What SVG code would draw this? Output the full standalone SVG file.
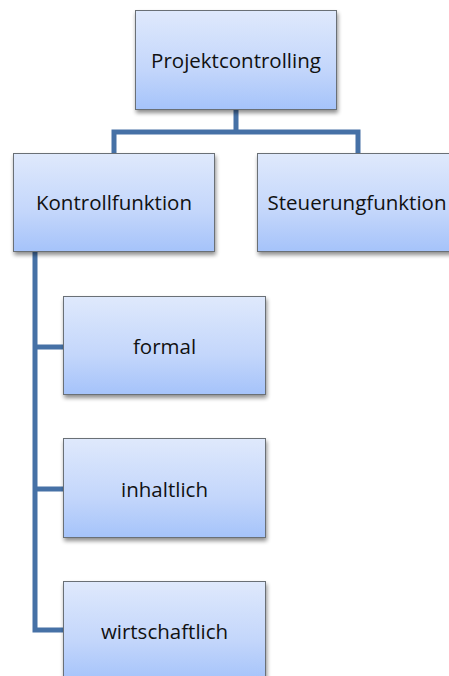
<svg xmlns="http://www.w3.org/2000/svg" width="449" height="676" viewBox="0 0 449 676">
  <defs>
    <linearGradient id="boxFill" x1="0" y1="0" x2="0" y2="1">
      <stop offset="0" stop-color="#dfe9fc"/>
      <stop offset="0.6" stop-color="#c3d6fb"/>
      <stop offset="1" stop-color="#a5c3fa"/>
    </linearGradient>
    <filter id="shadow" x="-10%" y="-10%" width="125%" height="130%">
      <feGaussianBlur in="SourceAlpha" stdDeviation="2"/>
      <feOffset dx="1" dy="3" result="b"/>
      <feComponentTransfer><feFuncA type="linear" slope="0.45"/></feComponentTransfer>
      <feMerge><feMergeNode/><feMergeNode in="SourceGraphic"/></feMerge>
    </filter>
  </defs>
  <style>
    .box { fill: url(#boxFill); stroke: #6b6f76; stroke-width: 1; filter: url(#shadow); }
    .label { font-family: "Open Sans", "Liberation Sans", sans-serif; font-size: 20.5px; fill: #111; text-anchor: middle; dominant-baseline: central; }
    .conn { fill: none; stroke: #4671a6; stroke-width: 5; stroke-linejoin: miter; }
  </style>

  <!-- connectors -->
  <g id="connectors">
    <path class="conn" d="M236,110 V132 M114,153 V132 H358 V153"/>
    <path class="conn" d="M35,252 V630 H63 M35,347 H63 M35,489 H63"/>
  </g>

  <g id="projektcontrolling">
    <rect class="box" x="135.5" y="10.5" width="201" height="99"/>
    <text class="label" x="236" y="60">Projektcontrolling</text>
  </g>
  <g id="kontrollfunktion">
    <rect class="box" x="13.5" y="153.5" width="201" height="98"/>
    <text class="label" x="114" y="202">Kontrollfunktion</text>
  </g>
  <g id="steuerungfunktion">
    <rect class="box" x="257.5" y="153.5" width="201" height="98"/>
    <text class="label" x="357" y="202">Steuerungfunktion</text>
  </g>
  <g id="formal">
    <rect class="box" x="63.5" y="296.5" width="202" height="98"/>
    <text class="label" x="164.5" y="346">formal</text>
  </g>
  <g id="inhaltlich">
    <rect class="box" x="63.5" y="438.5" width="202" height="99"/>
    <text class="label" x="164.5" y="489">inhaltlich</text>
  </g>
  <g id="wirtschaftlich">
    <rect class="box" x="63.5" y="581.5" width="202" height="99"/>
    <text class="label" x="164.5" y="631">wirtschaftlich</text>
  </g>
</svg>
